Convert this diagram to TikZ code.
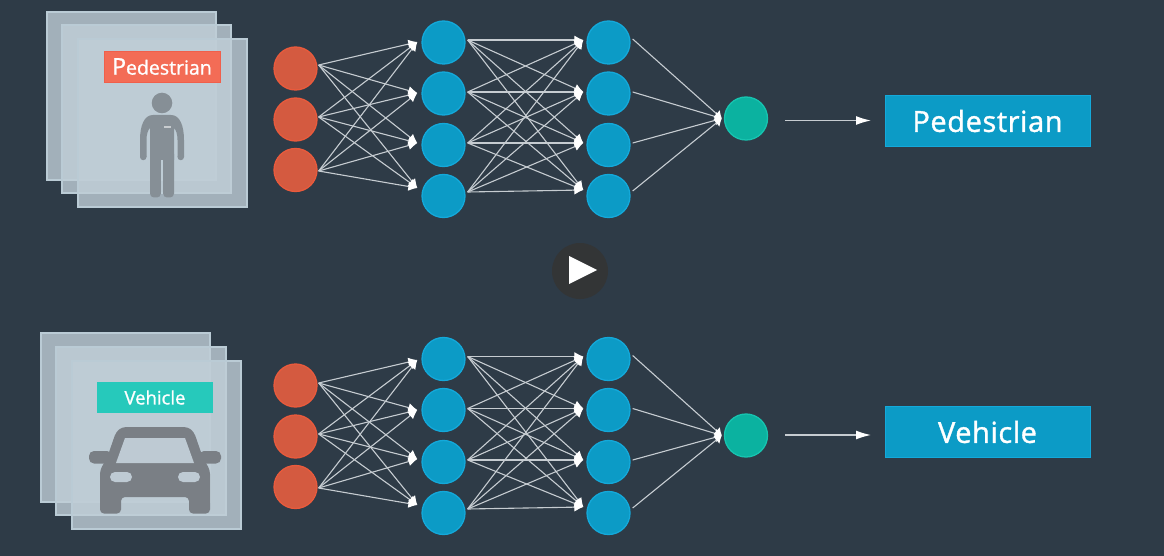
\documentclass[tikz,border=0pt]{standalone}
\usepackage{fontspec}
\setmainfont{Open Sans}
\usetikzlibrary{arrows.meta}
\definecolor{bg}{HTML}{2E3B47}
\definecolor{sheet}{HTML}{C0CED7}
\definecolor{sheetedge}{HTML}{BACBD5}
\definecolor{redf}{HTML}{D45A40}
\definecolor{redd}{HTML}{EA5A3C}
\definecolor{bluef}{HTML}{0C9BC6}
\definecolor{blued}{HTML}{14A9DA}
\definecolor{greenf}{HTML}{0BB2A0}
\definecolor{greend}{HTML}{17C4B0}
\definecolor{person}{HTML}{868F96}
\definecolor{car}{HTML}{7A7F85}
\definecolor{carwin}{HTML}{BECAD3}
\definecolor{wire}{HTML}{C6CCD1}
\definecolor{playdisc}{HTML}{333536}
\tikzset{
  x=1pt,y=-1pt,
  sheetbox/.style={fill=sheet,fill opacity=.8,draw=sheetedge,line width=1.5pt},
  neuron/.style={circle,minimum size=43pt,inner sep=0pt,line width=1.3pt},
  inn/.style={neuron,fill=redf,draw=redd},
  hid/.style={neuron,fill=bluef,draw=blued},
  outn/.style={neuron,fill=greenf,draw=greend},
  wired/.style={draw=wire,line width=1.1pt},
  wirea/.style={wired,-{Latex[length=9pt,width=9pt,color=white]}},
  wireb/.style={wired,-{Latex[length=7pt,width=10pt,color=white]}},
  bigarrow/.style={draw=wire,line width=1.4pt,-{Latex[length=15pt,width=9pt,color=white]}},
  result/.style={rectangle,fill=bluef,draw=blued,line width=1pt,text=white,font=\fontsize{29}{32}\selectfont\addfontfeature{LetterSpace=2,FakeBold=1.2},anchor=center,inner sep=0pt,minimum width=205pt,minimum height=51pt},
  tag/.style={rectangle,text=white,inner sep=0pt,anchor=center,minimum width=116pt,minimum height=31pt}
}
\newcommand{\wirenet}[1]{%
  \foreach \i in {1,2,3}{\foreach \j in {1,2,3,4}{
    \draw[wirea] (#1ro\i) -- (#1ai\j);}}
  \foreach \i in {1,2,3,4}{\foreach \j in {1,2,3,4}{
    \draw[wirea] (#1ao\i) -- (#1bi\j);}}
  \foreach \i in {1,2,3,4}{\draw[wireb] (#1bo\i) -- (#1gi);}
}
\begin{document}
\begin{tikzpicture}
\useasboundingbox (0,0) rectangle (1164,556);
\fill[bg] (0,0) rectangle (1164,556);

% top image stack
\path[sheetbox] (47,12) rectangle (216,180);
\path[sheetbox] (62,25) rectangle (231,193);
\path[sheetbox] (78,39) rectangle (247,207);
\node[tag,fill={rgb,255:red,243;green,108;blue,86},draw={rgb,255:red,240;green,95;blue,75},line width=.8pt,font=\fontsize{19.5}{22}\selectfont\addfontfeature{FakeBold=1}] (ped) at (162,66.5) {{\fontsize{23}{22}\selectfont P}edestrian};
\fill[person] (162,103) circle (10.3);
\fill[person]
  (153,115) -- (171,115) .. controls (180,115) and (184,126) .. (184,140)
  -- (184,157) -- (177.5,157) -- (177.5,140) .. controls (177.5,134) and (176,130) .. (174,128)
  -- (174,160) -- (150,160)
  -- (150,128) .. controls (148,130) and (146.5,134) .. (146.5,140)
  -- (146.5,157) -- (140,157) -- (140,140) .. controls (140,126) and (144,115) .. (153,115) -- cycle;
\fill[person] (143.25,157) circle (3.25);
\fill[person] (180.75,157) circle (3.25);
\fill[person,rounded corners=4pt] (150,150) rectangle (160.9,197.5);
\fill[person,rounded corners=4pt] (163.1,150) rectangle (174,197.5);
\fill[person] (150,150) rectangle (160.9,153);
\fill[person] (163.1,150) rectangle (174,153);
\fill[white,opacity=.55] (164,126) rectangle (171,127.8);

% bottom image stack
\path[sheetbox] (41,333) rectangle (210,502);
\path[sheetbox] (56,347) rectangle (226,515);
\path[sheetbox] (72,361) rectangle (241,529);
\node[tag,fill={rgb,255:red,38;green,201;blue,187},font=\fontsize{18.5}{22}\selectfont\addfontfeature{FakeBold=1}] (veh) at (155,397.5) {Vehicle};
\fill[car,rounded corners=5pt] (89,451) rectangle (112,463.5);
\fill[car,rounded corners=5pt] (199,451) rectangle (221,463.5);
\fill[car,rounded corners=4pt]
  (100,513.5) -- (100,470) -- (107,458) -- (116,432) -- (122,427) -- (188,427) -- (194,432) -- (203,458) -- (210,470) -- (210,513.5) -- (189,513.5) -- (189,497) -- (121,497) -- (121,513.5) -- cycle;
\fill[carwin] (125,438) -- (185,438) -- (194,463) -- (116,463) -- cycle;
\fill[carwin,rounded corners=5pt] (110,472) rectangle (132,482);
\fill[carwin,rounded corners=5pt] (178,472) rectangle (200,482);

% network nodes
\foreach \p/\ya/\yb/\yc/\yd/\yr/\ys/\yt in {t/42.5/93.5/145/196/68.5/119.5/170, u/359/410/462/513/385.5/436.5/487}{
  \node[inn] (\p r1) at (295.5,\yr) {};
  \node[inn] (\p r2) at (295.5,\ys) {};
  \node[inn] (\p r3) at (295.5,\yt) {};
  \foreach \k/\v in {1/\ya,2/\yb,3/\yc,4/\yd}{
    \node[hid] (\p a\k) at (443.5,\v) {};
    \node[hid] (\p b\k) at (608.5,\v) {};
  }
}
\node[outn] (tg) at (746,118.5) {};
\node[outn] (ug) at (746,435.5) {};

% connector ports
\foreach \p/\a/\b/\c in {t/-3.5/-2.5/1, u/-2.5/-2.5/1}{
  \foreach \k/\o in {1/\a,2/\b,3/\c}{\coordinate (\p ro\k) at ([shift={(1,\o)}]\p r\k.east);}
}
\foreach \k/\o in {1/-0.5,2/-0.5,3/-2,4/-8}{\coordinate (tai\k) at ([shift={(-4,\o)}]ta\k.west);}
\foreach \k/\o in {1/1,2/0,3/-3,4/-8}{\coordinate (uai\k) at ([shift={(-4,\o)}]ua\k.west);}
\foreach \p in {t,u}{
  \foreach \k/\o in {1/-2.5,2/-1.5,3/-2,4/-4}{\coordinate (\p ao\k) at ([shift={(2,\o)}]\p a\k.east);}
  \foreach \k/\o in {1/-2.5,2/-1.5,3/-2,4/-6}{\coordinate (\p bi\k) at ([shift={(-3,\o)}]\p b\k.west);}
  \foreach \k/\o in {1/-3.5,2/-1.5,3/-2,4/-5}{\coordinate (\p bo\k) at ([shift={(2,\o)}]\p b\k.east);}
  \coordinate (\p gi) at ([xshift=-2pt]\p g.west);
}
\wirenet{t}
\wirenet{u}

% outputs
\node[result] (to) at (987.5,121) {Pedestrian};
\node[result] (uo) at (987.5,432) {Vehicle};
\coordinate (ta) at (785,120.5);
\coordinate (ua) at (785,435);
\coordinate (tb) at (871,120.5);
\coordinate (ub) at (871,435);
\draw[bigarrow] (ta) -- (tb);
\draw[bigarrow] (ua) -- (ub);

% play button
\fill[playdisc] (580,271) circle (28);
\fill[white] (569,256) -- (597,270) -- (569,284) -- cycle;
\end{tikzpicture}
\end{document}
